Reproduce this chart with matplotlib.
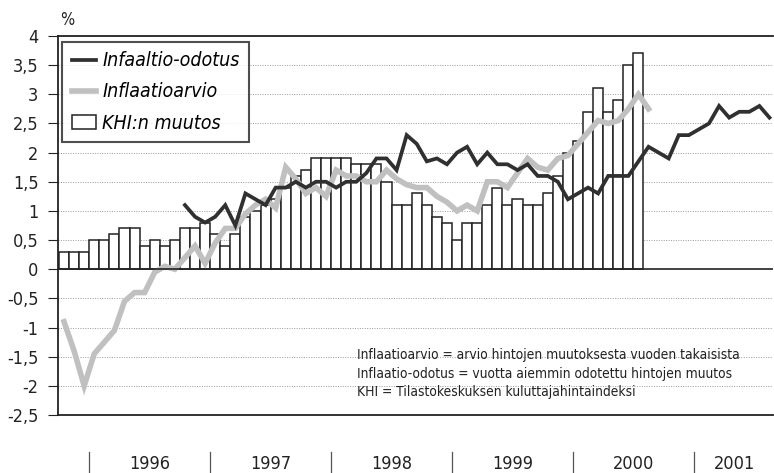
import numpy as np
import matplotlib
matplotlib.use('Agg')
import matplotlib.pyplot as plt
from matplotlib.lines import Line2D
from matplotlib.patches import Patch

plt.rcParams['font.family'] = ['DejaVu Sans']
plt.rcParams['font.stretch'] = 'condensed'

# monthly series, month index 0 = Oct 1995
khi = [0.3, 0.3, 0.3,
       0.5, 0.5, 0.6, 0.7, 0.7, 0.4, 0.5, 0.4, 0.5, 0.7, 0.7, 0.8,
       0.6, 0.4, 0.6, 0.9, 1.0, 1.1, 1.2, 1.4, 1.6, 1.7, 1.9, 1.9,
       1.9, 1.9, 1.8, 1.8, 1.8, 1.5, 1.1, 1.1, 1.3, 1.1, 0.9, 0.8,
       0.5, 0.8, 0.8, 1.1, 1.4, 1.1, 1.2, 1.1, 1.1, 1.3, 1.6, 2.0,
       2.2, 2.7, 3.1, 2.7, 2.9, 3.5, 3.7]

arvio = [-0.9, -1.4, -2.0,
         -1.45, -1.25, -1.05, -0.55, -0.4, -0.4, -0.05, 0.05, 0.0, 0.2, 0.4, 0.1,
         0.45, 0.7, 0.7, 0.95, 1.1, 1.2, 1.05, 1.75, 1.55, 1.3, 1.4, 1.25,
         1.7, 1.6, 1.6, 1.5, 1.5, 1.7, 1.55, 1.45, 1.4, 1.4, 1.25, 1.15,
         1.0, 1.1, 1.0, 1.5, 1.5, 1.4, 1.65, 1.9, 1.75, 1.7, 1.9, 1.95,
         2.15, 2.35, 2.55, 2.5, 2.55, 2.75, 3.0, 2.75]

# expectation series starts Oct 1996 (index 12)
odotus_start = 12
odotus = [1.1, 0.9, 0.8,
          0.9, 1.1, 0.75, 1.3, 1.2, 1.1, 1.4, 1.4, 1.5, 1.4, 1.5, 1.5,
          1.4, 1.5, 1.5, 1.65, 1.9, 1.9, 1.7, 2.3, 2.15, 1.85, 1.9, 1.8,
          2.0, 2.1, 1.8, 2.0, 1.8, 1.8, 1.7, 1.8, 1.6, 1.6, 1.5, 1.2,
          1.3, 1.4, 1.3, 1.6, 1.6, 1.6, 1.85, 2.1, 2.0, 1.9, 2.3, 2.3,
          2.4, 2.5, 2.8, 2.6, 2.7, 2.7, 2.8, 2.6]

years = ['1996', '1997', '1998', '1999', '2000', '2001']
year_start = 2.5  # boundary before Jan 1996
x_end = 70.5

yticks = np.arange(-2.5, 4.01, 0.5)
ytick_labels = [('%g' % v).replace('.', ',') for v in yticks]

notes = ['Inflaatioarvio = arvio hintojen muutoksesta vuoden takaisista',
         'Inflaatio-odotus = vuotta aiemmin odotettu hintojen muutos',
         'KHI = Tilastokeskuksen kuluttajahintaindeksi']

fig = plt.figure(figsize=(7.74, 4.73), dpi=100)
ax = fig.add_axes([0.0749, 0.1226, 0.9238, 0.8013])

x_khi = np.arange(len(khi))
x_arvio = np.arange(len(arvio))
x_odotus = np.arange(len(odotus)) + odotus_start

ax.bar(x_khi, khi, width=1.0, color='white', edgecolor='#222222', linewidth=1.1, zorder=2)
ax.plot(x_arvio, arvio, color='#c0c0c0', lw=4, solid_joinstyle='miter', zorder=3)
ax.plot(x_odotus, odotus, color='#303030', lw=2.7, solid_joinstyle='miter', zorder=4)

ax.set_xlim(-0.6, 70.35)
ax.set_ylim(-2.5, 4)
ax.set_yticks(yticks)
ax.set_yticklabels(ytick_labels)
ax.tick_params(axis='y', direction='out', length=7, width=0.8, pad=7, labelsize=13, colors='#222222')
ax.set_xticks([])

for v in yticks[1:]:
    if v == 0:
        continue
    ax.axhline(v, color='#9a9a9a', lw=0.7, ls=(0, (1, 1.5)), zorder=1)
ax.axhline(0, color='#222222', lw=1.2, zorder=5)

for s in ['left', 'bottom', 'top']:
    ax.spines[s].set_linewidth(1.3)
    ax.spines[s].set_color('#222222')
ax.spines['right'].set_visible(False)

ax.text(0.013, 1.042, '%', transform=ax.transAxes, ha='center', va='center', fontsize=12, color='#222222')

# year separators and labels below the plot
trans = ax.get_xaxis_transform()
bounds = [year_start + 12 * k for k in range(len(years))]
for b in bounds:
    ax.plot([b, b], [-0.098, -0.16], transform=trans, color='#555555', lw=0.9, clip_on=False)
for k, yr in enumerate(years):
    left = bounds[k]
    right = min(left + 12, x_end)
    ax.text((left + right) / 2, -0.128, yr, transform=trans, ha='center', va='center',
            fontsize=13, color='#222222')

for i, t in enumerate(notes):
    ax.text(0.418, 0.158 - i * 0.049, t, transform=ax.transAxes, ha='left', va='center',
            fontsize=9.9, color='#222222')

handles = [Line2D([], [], color='#303030', lw=2.7),
           Line2D([], [], color='#c0c0c0', lw=4),
           Patch(facecolor='white', edgecolor='#222222', linewidth=1.1)]
labels = ['Infaaltio-odotus', 'Inflaatioarvio', 'KHI:n muutos']
leg = ax.legend(handles, labels, loc='upper left', bbox_to_anchor=(0.006, 0.985), borderaxespad=0,
                fancybox=False, frameon=True, prop={'style': 'italic', 'size': 14},
                handlelength=1.25, handletextpad=0.3, labelspacing=0.62, borderpad=0.5)
leg.get_frame().set_edgecolor('#222222')
leg.get_frame().set_linewidth(1.5)
leg.set_zorder(6)

fig.savefig('out.png', dpi=100)
